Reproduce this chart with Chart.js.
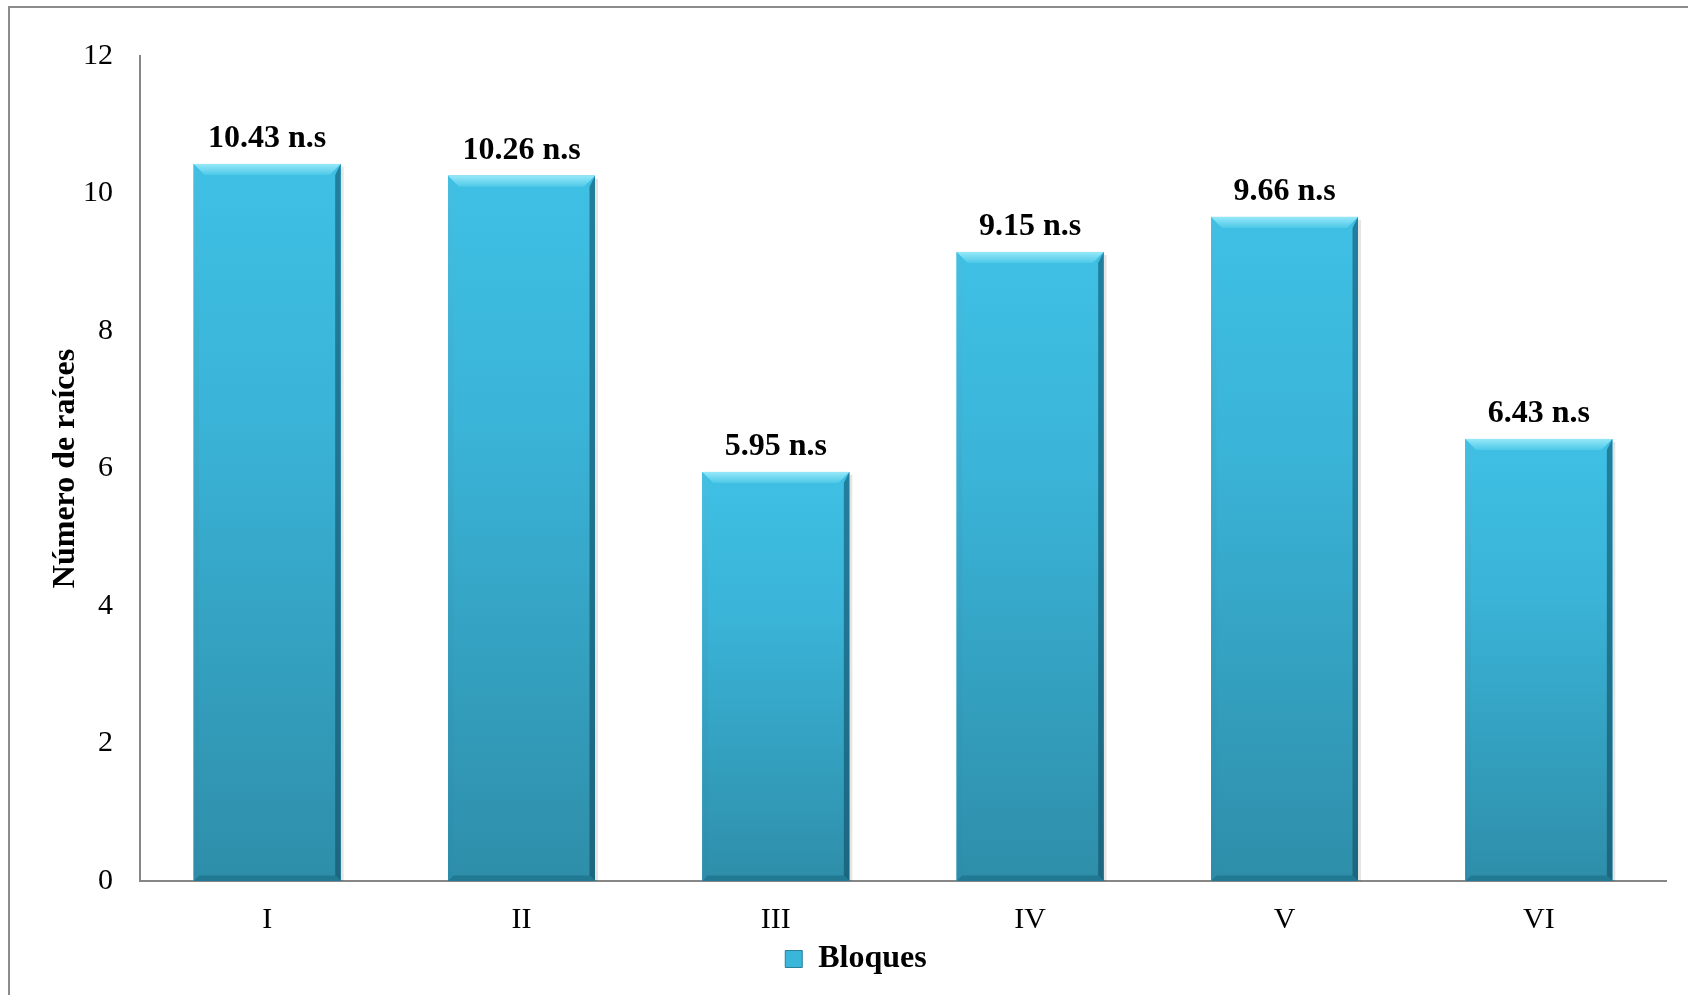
<!DOCTYPE html>
<html>
<head>
<meta charset="utf-8">
<script src="https://cdn.jsdelivr.net/npm/chart.js@4/dist/chart.umd.min.js"></script>
<style>
  html, body { margin: 0; padding: 0; background: #ffffff; }
  #wrap { width: 1688px; height: 995px; position: relative; }
</style>
</head>
<body>
<div id="wrap"><canvas id="c" width="1688" height="995"></canvas></div>
<script>
const categories = ['I', 'II', 'III', 'IV', 'V', 'VI'];
const values = [10.43, 10.26, 5.95, 9.15, 9.66, 6.43];
const valueSuffix = ' n.s';
const seriesName = 'Bloques';
const yTitle = 'Número de raíces';
const yMin = 0, yMax = 12, yStep = 2;

const FONT = "'Liberation Serif', 'Times New Roman', serif";

const frame = {
  id: 'frame',
  beforeDraw(chart) {
    const ctx = chart.ctx;
    ctx.save();
    ctx.strokeStyle = '#8c8c8c';
    ctx.lineWidth = 2;
    ctx.beginPath();
    ctx.moveTo(9, chart.height);
    ctx.lineTo(9, 7);
    ctx.lineTo(chart.width, 7);
    ctx.stroke();
    ctx.restore();
  }
};

const bevelBars = {
  id: 'bevelBars',
  afterDatasetsDraw(chart) {
    const ctx = chart.ctx;
    const meta = chart.getDatasetMeta(0);
    ctx.save();
    meta.data.forEach((el, i) => {
      const p = el.getProps(['x', 'y', 'base', 'width'], true);
      const l = p.x - p.width / 2, r = p.x + p.width / 2, t = p.y, b = p.base;
      const h = b - t;
      ctx.fillStyle = 'rgba(0,0,0,0.10)';
      ctx.fillRect(r, t + 3, 3, h - 3);
      const g = ctx.createLinearGradient(0, t, 0, b);
      g.addColorStop(0, '#3ec0e4');
      g.addColorStop(0.35, '#3ab4d8');
      g.addColorStop(1, '#2e8ea9');
      ctx.fillStyle = g;
      ctx.fillRect(l, t, p.width, h);
      const bv = 11;
      const gt = ctx.createLinearGradient(0, t, 0, t + bv);
      gt.addColorStop(0, '#95e8f9');
      gt.addColorStop(1, '#4fc9e8');
      ctx.fillStyle = gt;
      ctx.beginPath();
      ctx.moveTo(l, t); ctx.lineTo(r, t); ctx.lineTo(r - bv, t + bv); ctx.lineTo(l + bv, t + bv); ctx.closePath();
      ctx.fill();
      const gl = ctx.createLinearGradient(0, t, 0, b);
      gl.addColorStop(0, 'rgba(70,190,225,0.9)');
      gl.addColorStop(1, 'rgba(45,140,170,0.9)');
      ctx.fillStyle = gl;
      ctx.beginPath();
      ctx.moveTo(l, t); ctx.lineTo(l + bv * 0.5, t + bv); ctx.lineTo(l + bv * 0.5, b - bv * 0.5); ctx.lineTo(l, b); ctx.closePath();
      ctx.fill();
      const gr = ctx.createLinearGradient(0, t, 0, b);
      gr.addColorStop(0, 'rgba(30,120,150,0.9)');
      gr.addColorStop(1, 'rgba(28,100,125,0.95)');
      ctx.fillStyle = gr;
      ctx.beginPath();
      ctx.moveTo(r, t); ctx.lineTo(r - bv * 0.5, t + bv); ctx.lineTo(r - bv * 0.5, b - bv * 0.5); ctx.lineTo(r, b); ctx.closePath();
      ctx.fill();
      ctx.fillStyle = 'rgba(30,115,140,0.8)';
      ctx.beginPath();
      ctx.moveTo(l, b); ctx.lineTo(l + bv * 0.5, b - bv * 0.5); ctx.lineTo(r - bv * 0.5, b - bv * 0.5); ctx.lineTo(r, b); ctx.closePath();
      ctx.fill();
      ctx.fillStyle = '#000';
      ctx.font = 'bold 32px ' + FONT;
      ctx.textAlign = 'center';
      ctx.textBaseline = 'alphabetic';
      ctx.fillText(values[i].toFixed(2) + valueSuffix, p.x, t - 17);
    });
    ctx.restore();
  }
};

new Chart(document.getElementById('c'), {
  type: 'bar',
  data: {
    labels: categories,
    datasets: [{
      label: seriesName,
      data: values,
      backgroundColor: '#38b3d6',
      borderWidth: 0,
      categoryPercentage: 1,
      barPercentage: 0.578
    }]
  },
  options: {
    responsive: false,
    animation: false,
    devicePixelRatio: 1,
    layout: { padding: { left: 46, right: 22, top: 56, bottom: 10 } },
    plugins: {
      legend: {
        position: 'bottom',
        labels: {
          color: '#000',
          font: { family: FONT, size: 32, weight: 'bold' },
          boxWidth: 17,
          boxHeight: 17,
          padding: 8,
          generateLabels: () => [{
            text: seriesName,
            fillStyle: '#3ab6da',
            strokeStyle: '#2a7f99',
            lineWidth: 1,
            hidden: false,
            datasetIndex: 0
          }]
        }
      },
      tooltip: { enabled: false }
    },
    scales: {
      x: {
        grid: { display: false, drawTicks: false },
        border: { display: true, color: '#878787', width: 2 },
        ticks: { color: '#000', font: { family: FONT, size: 30 }, padding: 21 },
        afterFit: (s) => { s.height = 54; }
      },
      y: {
        min: yMin, max: yMax,
        grid: { display: false, drawTicks: false },
        border: { display: true, color: '#878787', width: 2 },
        ticks: { stepSize: yStep, color: '#000', font: { family: FONT, size: 30 }, padding: 27 },
        title: {
          display: true, text: yTitle, color: '#000',
          font: { family: FONT, size: 32, weight: 'bold' },
          padding: { top: 1, bottom: 0 }
        },
        afterFit: (s) => { s.width = 94; }
      }
    }
  },
  plugins: [frame, bevelBars]
});
</script>
</body>
</html>
